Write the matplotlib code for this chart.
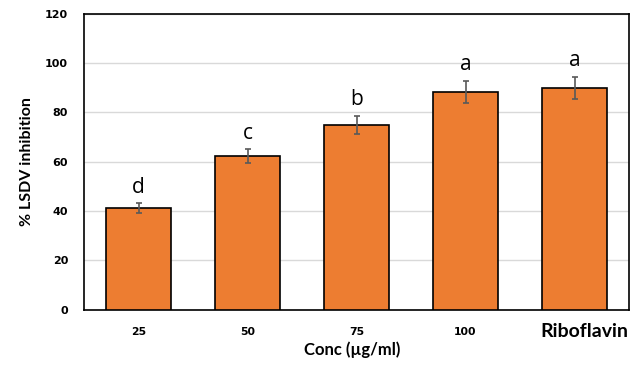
import matplotlib.pyplot as plt
import matplotlib.transforms as mtransforms
import numpy as np

# data
categories = ['25', '50', '75', '100', 'Riboflavin']
inhibition = [41.1, 62.2, 74.9, 88.2, 89.9]
errors = [1.9, 2.7, 3.6, 4.4, 4.5]
letters = ['d', 'c', 'b', 'a', 'a']

fig = plt.figure(figsize=(6.37, 3.65), dpi=100)
ax = fig.add_axes([84 / 637, 55.5 / 365, 545 / 637, 296 / 365])

x = np.arange(len(categories))
ax.bar(x, inhibition, width=0.59, color='#ED7D31', edgecolor='black', linewidth=1.2, zorder=3)
ax.errorbar(x, inhibition, yerr=errors, fmt='none', ecolor='#595959', elinewidth=1.2,
            capsize=2.5, capthick=1.2, zorder=4)

for xi, v, e, lab in zip(x, inhibition, errors, letters):
    ax.text(xi, v + e + 4.3, lab, ha='center', va='baseline', fontsize=15,
            family='Open Sans', color='black', zorder=5)

ax.set_xlim(-0.5, len(categories) - 0.5)
ax.set_ylim(0, 120)
ax.set_yticks(range(0, 121, 20))
ax.grid(axis='y', color='#d9d9d9', linewidth=1, zorder=0)
ax.tick_params(length=0)
ax.tick_params(axis='x', pad=16)
ax.tick_params(axis='y', pad=11.5)

ax.set_xticks(x)
ax.set_xticklabels(categories, fontsize=7.8, fontweight='bold', family='DejaVu Sans')
for t in ax.get_xticklabels():
    t.set_verticalalignment('center')
rib = ax.get_xticklabels()[-1]
rib.set_fontsize(14)
rib.set_family('Lato')
rib.set_transform(rib.get_transform() + mtransforms.ScaledTranslation(10 / 100, 0, fig.dpi_scale_trans))
for t in ax.get_yticklabels():
    t.set_fontsize(8)
    t.set_fontweight('bold')
    t.set_family('DejaVu Sans')

for s in ax.spines.values():
    s.set_color('black')
    s.set_linewidth(1.2)

fig.text(352 / 637, 1 - 350 / 365, 'Conc (µg/ml)', ha='center', va='center',
         fontsize=12, fontweight='bold', family='Lato')
fig.text(27 / 637, 1 - 161.5 / 365, '% LSDV inhibition', ha='center', va='center',
         rotation=90, fontsize=11.5, fontweight='bold', family='Lato')

fig.savefig('out.png', dpi=100)
